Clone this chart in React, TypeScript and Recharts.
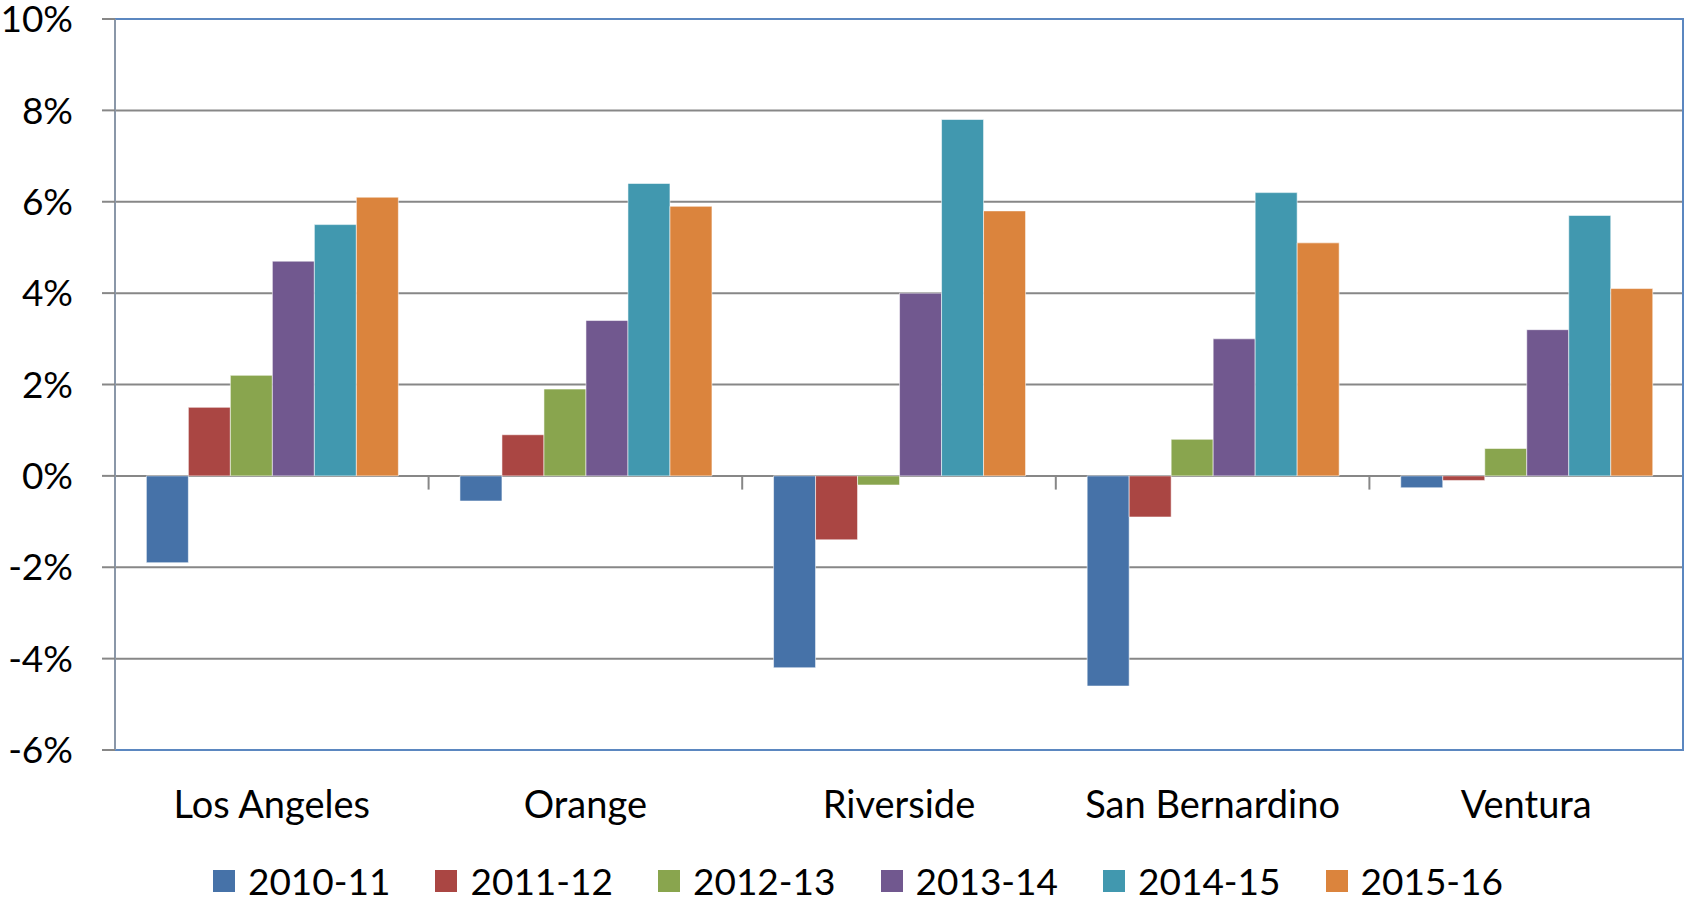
import * as React from "react";
import {
  Bar,
  BarChart,
  CartesianGrid,
  Legend,
  ReferenceArea,
  ReferenceLine,
  XAxis,
  YAxis,
} from "recharts";

const counties = ["Los Angeles", "Orange", "Riverside", "San Bernardino", "Ventura"];
const years = ["2010-11", "2011-12", "2012-13", "2013-14", "2014-15", "2015-16"];
const colors = ["#4672A8", "#AA4643", "#89A54E", "#71588F", "#4198AF", "#DB843D"];

const y2010 = [-1.9, -0.55, -4.2, -4.6, -0.26];
const y2011 = [1.5, 0.9, -1.4, -0.9, -0.1];
const y2012 = [2.2, 1.9, -0.2, 0.8, 0.6];
const y2013 = [4.7, 3.4, 4.0, 3.0, 3.2];
const y2014 = [5.5, 6.4, 7.8, 6.2, 5.7];
const y2015 = [6.1, 5.9, 5.8, 5.1, 4.1];
const yTicks = [-6, -4, -2, 0, 2, 4, 6, 8, 10];

const seriesValues = [y2010, y2011, y2012, y2013, y2014, y2015];

const FONT = "Lato, 'Open Sans', sans-serif";

function LegendBox({ payload }: any) {
  const items = payload ?? [];
  return (
    <div
      style={{
        height: 74,
        paddingTop: 32,
        paddingLeft: 33,
        boxSizing: "border-box",
        display: "flex",
        justifyContent: "center",
        fontFamily: FONT,
        fontSize: 37,
        color: "#000",
      }}
    >
      {items.map((p: any, i: number) => (
        <div
          key={p.value}
          style={{
            display: "flex",
            alignItems: "center",
            height: 38,
            marginRight: i < items.length - 1 ? 45 : 0,
          }}
        >
          <span
            style={{ width: 22, height: 22, background: p.color, marginRight: 13, display: "inline-block" }}
          />
          <span style={{ lineHeight: "38px" }}>{p.value}</span>
        </div>
      ))}
    </div>
  );
}

export default function App() {
  const data = React.useMemo(
    () =>
      counties.map((c, i) => {
        const row: Record<string, string | number> = { county: c };
        years.forEach((y, j) => {
          row[y] = seriesValues[j][i];
        });
        return row;
      }),
    [],
  );

  return (
    <div style={{ position: "absolute", left: 0, top: 0, width: 1684, height: 904, background: "#fff" }}>
      <BarChart
        width={1684}
        height={904}
        data={data}
        margin={{ top: 19, right: 1, bottom: 0, left: 0 }}
        barCategoryGap="10%"
        barGap={0}
      >
        <CartesianGrid vertical={false} stroke="#878787" strokeWidth={2} />
        <ReferenceArea y1={-6} y2={10} fill="none" stroke="#5B87C0" strokeWidth={2} />
        <XAxis
          dataKey="county"
          axisLine={false}
          tickLine={false}
          tickSize={0}
          tickMargin={41}
          height={80}
          interval={0}
          tick={{ fill: "#000", fontSize: 38, fontFamily: FONT }}
        />
        <YAxis
          domain={[-6, 10]}
          ticks={yTicks}
          interval={0}
          width={115}
          tickSize={13}
          tickMargin={29}
          axisLine={{ stroke: "#8A97A8", strokeWidth: 2 }}
          tickLine={{ stroke: "#878787", strokeWidth: 2 }}
          tickFormatter={(v: number) => `${v}%`}
          tick={{ fill: "#000", fontSize: 37, fontFamily: FONT }}
        />
        {counties.slice(1).map((c) => (
          <ReferenceLine
            key={c}
            position="start"
            segment={[
              { x: c, y: 0 },
              { x: c, y: -0.3 },
            ]}
            stroke="#878787"
            strokeWidth={2}
          />
        ))}
        <Legend verticalAlign="bottom" height={74} content={<LegendBox />} />
        {years.map((y, j) => (
          <Bar
            key={y}
            dataKey={y}
            fill={colors[j]}
            stroke="rgba(255,255,255,0.55)"
            strokeWidth={1}
            isAnimationActive={false}
          />
        ))}
      </BarChart>
    </div>
  );
}
